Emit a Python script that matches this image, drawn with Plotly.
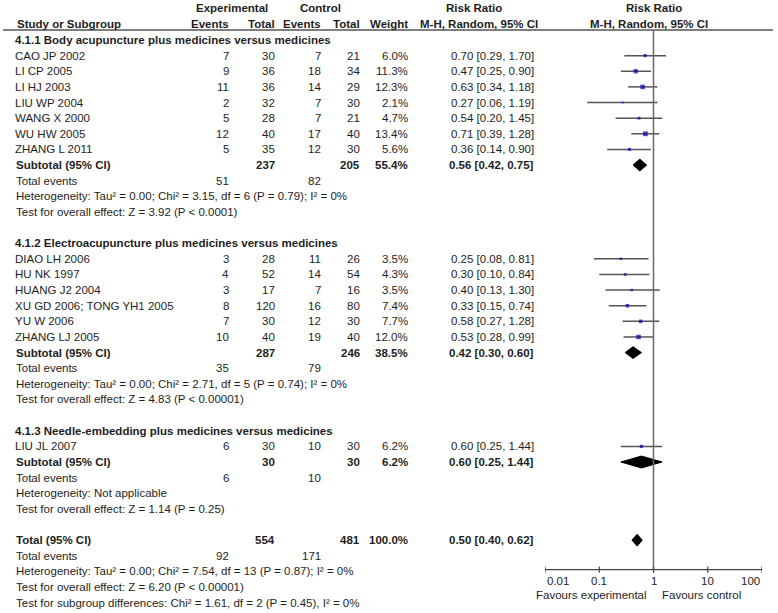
import math
import plotly.graph_objects as go

# ---------------- data ----------------
g1_name = "4.1.1 Body acupuncture plus medicines versus medicines"
g1_studies = ["CAO JP 2002", "LI CP 2005", "LI HJ 2003", "LIU WP 2004", "WANG X 2000", "WU HW 2005", "ZHANG L 2011"]
g1_exp_events = [7, 9, 11, 2, 5, 12, 5]
g1_exp_total = [30, 36, 36, 32, 28, 40, 35]
g1_ctrl_events = [7, 18, 14, 7, 7, 17, 12]
g1_ctrl_total = [21, 34, 29, 30, 21, 40, 30]
g1_weight = [6.0, 11.3, 12.3, 2.1, 4.7, 13.4, 5.6]
g1_rr = [0.70, 0.47, 0.63, 0.27, 0.54, 0.71, 0.36]
g1_lo = [0.29, 0.25, 0.34, 0.06, 0.20, 0.39, 0.14]
g1_hi = [1.70, 0.90, 1.18, 1.19, 1.45, 1.28, 0.90]
g1_sub_totals = [237, 205]
g1_sub_weight = 55.4
g1_sub_rr = [0.56, 0.42, 0.75]
g1_events = [51, 82]
g1_het = "Heterogeneity: Tau² = 0.00; Chi² = 3.15, df = 6 (P = 0.79); I² = 0%"
g1_test = "Test for overall effect: Z = 3.92 (P < 0.0001)"

g2_name = "4.1.2 Electroacupuncture plus medicines versus medicines"
g2_studies = ["DIAO LH 2006", "HU NK 1997", "HUANG J2 2004", "XU GD 2006; TONG YH1 2005", "YU W 2006", "ZHANG LJ 2005"]
g2_exp_events = [3, 4, 3, 8, 7, 10]
g2_exp_total = [28, 52, 17, 120, 30, 40]
g2_ctrl_events = [11, 14, 7, 16, 12, 19]
g2_ctrl_total = [26, 54, 16, 80, 30, 40]
g2_weight = [3.5, 4.3, 3.5, 7.4, 7.7, 12.0]
g2_rr = [0.25, 0.30, 0.40, 0.33, 0.58, 0.53]
g2_lo = [0.08, 0.10, 0.13, 0.15, 0.27, 0.28]
g2_hi = [0.81, 0.84, 1.30, 0.74, 1.28, 0.99]
g2_sub_totals = [287, 246]
g2_sub_weight = 38.5
g2_sub_rr = [0.42, 0.30, 0.60]
g2_events = [35, 79]
g2_het = "Heterogeneity: Tau² = 0.00; Chi² = 2.71, df = 5 (P = 0.74); I² = 0%"
g2_test = "Test for overall effect: Z = 4.83 (P < 0.00001)"

g3_name = "4.1.3 Needle-embedding plus medicines versus medicines"
g3_studies = ["LIU JL 2007"]
g3_exp_events = [6]
g3_exp_total = [30]
g3_ctrl_events = [10]
g3_ctrl_total = [30]
g3_weight = [6.2]
g3_rr = [0.60]
g3_lo = [0.25]
g3_hi = [1.44]
g3_sub_totals = [30, 30]
g3_sub_weight = 6.2
g3_sub_rr = [0.60, 0.25, 1.44]
g3_events = [6, 10]
g3_het = "Heterogeneity: Not applicable"
g3_test = "Test for overall effect: Z = 1.14 (P = 0.25)"

tot_totals = [554, 481]
tot_weight = 100.0
tot_rr = [0.50, 0.40, 0.62]
tot_events = [92, 171]
tot_het = "Heterogeneity: Tau² = 0.00; Chi² = 7.54, df = 13 (P = 0.87); I² = 0%"
tot_test = "Test for overall effect: Z = 6.20 (P < 0.00001)"
tot_sub = "Test for subgroup differences: Chi² = 1.61, df = 2 (P = 0.45), I² = 0%"

axis_ticks = [0.01, 0.1, 1, 10, 100]
axis_ticklabels = ["0.01", "0.1", "1", "10", "100"]
favours_left = "Favours experimental"
favours_right = "Favours control"

# ---------------- layout constants ----------------
W, H = 778, 613
ROW0_PX, STEP = 40.0, 15.63
FONT = "Liberation Sans, Arial, sans-serif"
FS = 11.5
TXT = "#1e1e1e"
X_NAME, X_EE, X_ET, X_CE, X_CT, X_W, X_RR = 14, 231, 277, 323, 362, 410, 536


def px2paper(px):
    return px / W


def row_of(py):
    return (py - ROW0_PX) / STEP


fig = go.Figure()
ann = []


def txt(px, row, s, anchor="left", bold=False):
    ann.append(dict(x=px2paper(px), y=row, xref="paper", yref="y", text=("<b>%s</b>" % s) if bold else s,
                    xanchor=anchor, yanchor="middle", showarrow=False,
                    font=dict(family=FONT, size=FS, color=TXT)))


def rrtxt(r, l, h):
    return "%.2f [%.2f, %.2f]" % (r, l, h)


ci_x, ci_y, sq_x, sq_y, sq_s = [], [], [], [], []
diamonds = []

groups = [
    (g1_name, g1_studies, g1_exp_events, g1_exp_total, g1_ctrl_events, g1_ctrl_total, g1_weight, g1_rr, g1_lo, g1_hi,
     g1_sub_totals, g1_sub_weight, g1_sub_rr, g1_events, g1_het, g1_test),
    (g2_name, g2_studies, g2_exp_events, g2_exp_total, g2_ctrl_events, g2_ctrl_total, g2_weight, g2_rr, g2_lo, g2_hi,
     g2_sub_totals, g2_sub_weight, g2_sub_rr, g2_events, g2_het, g2_test),
    (g3_name, g3_studies, g3_exp_events, g3_exp_total, g3_ctrl_events, g3_ctrl_total, g3_weight, g3_rr, g3_lo, g3_hi,
     g3_sub_totals, g3_sub_weight, g3_sub_rr, g3_events, g3_het, g3_test),
]

r = 0
for (name, st, ee, et, ce, ct, wt, rr, lo, hi, subt, subw, subrr, evs, het, test) in groups:
    txt(X_NAME - 1, r, name, bold=True)
    r += 1
    for i in range(len(st)):
        txt(X_NAME - 1, r, st[i])
        txt(X_EE, r, str(ee[i]), "right")
        txt(X_ET, r, str(et[i]), "right")
        txt(X_CE, r, str(ce[i]), "right")
        txt(X_CT, r, str(ct[i]), "right")
        txt(X_W, r, "%.1f%%" % wt[i], "right")
        txt(X_RR, r, rrtxt(rr[i], lo[i], hi[i]), "right")
        ci_x += [lo[i], hi[i], None]
        ci_y += [r, r, None]
        sq_x.append(rr[i]); sq_y.append(r); sq_s.append(1.3 * wt[i] ** 0.5)
        r += 1
    txt(X_NAME, r, "Subtotal (95% CI)", bold=True)
    txt(X_ET, r, str(subt[0]), "right", True)
    txt(X_CT, r, str(subt[1]), "right", True)
    txt(X_W, r, "%.1f%%" % subw, "right", True)
    txt(X_RR, r, rrtxt(*subrr), "right", True)
    diamonds.append((subrr, r))
    r += 1
    txt(X_NAME, r, "Total events")
    txt(X_EE, r, str(evs[0]), "right")
    txt(X_CE, r, str(evs[1]), "right")
    r += 1
    txt(X_NAME, r, het); r += 1
    txt(X_NAME, r, test); r += 1
    r += 1

txt(X_NAME, r, "Total (95% CI)", bold=True)
txt(X_ET, r, str(tot_totals[0]), "right", True)
txt(X_CT, r, str(tot_totals[1]), "right", True)
txt(X_W, r, "%.1f%%" % tot_weight, "right", True)
txt(X_RR, r, rrtxt(*tot_rr), "right", True)
diamonds.append((tot_rr, r))
r += 1
txt(X_NAME, r, "Total events")
txt(X_EE, r, str(tot_events[0]), "right")
txt(X_CE, r, str(tot_events[1]), "right")
r += 1
txt(X_NAME, r, tot_het); r += 1
txt(X_NAME, r, tot_test); r += 1
txt(X_NAME, r, tot_sub); r += 1

# headers
hr1, hr2 = row_of(7.5), row_of(24)
txt(232, hr1, "Experimental", "center", True)
txt(320, hr1, "Control", "center", True)
txt(474, hr1, "Risk Ratio", "center", True)
txt(654, hr1, "Risk Ratio", "center", True)
txt(15, hr2, "Study or Subgroup", bold=True)
txt(X_EE, hr2, "Events", "right", True)
txt(X_ET, hr2, "Total", "right", True)
txt(X_CE, hr2, "Events", "right", True)
txt(X_CT, hr2, "Total", "right", True)
txt(X_W, hr2, "Weight", "right", True)
txt(479, hr2, "M-H, Random, 95% CI", "center", True)
txt(649, hr2, "M-H, Random, 95% CI", "center", True)

# forest axis
axis_row = row_of(569.7)
shapes = []
shapes.append(dict(type="line", xref="paper", yref="y", x0=px2paper(3), x1=px2paper(773),
                   y0=row_of(30), y1=row_of(30), line=dict(color="#555555", width=1.5)))
shapes.append(dict(type="line", xref="x", yref="y", x0=1, x1=1, y0=row_of(30), y1=axis_row,
                   line=dict(color="#6a6a6a", width=1.5)))
shapes.append(dict(type="line", xref="x", yref="y", x0=axis_ticks[0], x1=axis_ticks[-1], y0=axis_row, y1=axis_row,
                   line=dict(color="#444444", width=1.2)))
n_ticks = len(axis_ticks)
for k, (t, lab) in enumerate(zip(axis_ticks, axis_ticklabels)):
    shapes.append(dict(type="line", xref="x", yref="y", x0=t, x1=t, y0=axis_row - 0.2, y1=axis_row + 0.2,
                       line=dict(color="#444444", width=1.2)))
    anchor = "left" if k == 0 else ("right" if k == n_ticks - 1 else "center")
    ann.append(dict(x=math.log10(t), y=row_of(580.5), xref="x", yref="y", text=lab, showarrow=False,
                    xanchor=anchor, yanchor="middle", font=dict(family=FONT, size=FS, color=TXT)))
txt(649, row_of(595), favours_left, "right")
txt(660, row_of(595), favours_right, "left")

fig.add_trace(go.Scatter(x=ci_x, y=ci_y, mode="lines", line=dict(color="#555555", width=1.5),
                         hoverinfo="skip", showlegend=False))
fig.add_trace(go.Scatter(x=sq_x, y=sq_y, mode="markers",
                         marker=dict(symbol="square", size=sq_s, color="#0000b4", line=dict(width=0)),
                         showlegend=False))
for (est, row) in diamonds:
    e, l, h = est
    fig.add_trace(go.Scatter(x=[l, e, h, e, l], y=[row, row - 0.38, row, row + 0.38, row], mode="lines",
                             fill="toself", fillcolor="black", line=dict(color="black", width=1),
                             showlegend=False, hoverinfo="skip"))

x_dom = [px2paper(545), px2paper(762)]
fig.update_layout(
    width=W, height=H, margin=dict(l=0, r=0, t=0, b=0),
    paper_bgcolor="white", plot_bgcolor="white",
    xaxis=dict(type="log", range=[-2, 2], domain=x_dom, visible=False, fixedrange=True),
    yaxis=dict(range=[row_of(H), row_of(0)], domain=[0, 1], visible=False, fixedrange=True),
    annotations=ann, shapes=shapes, showlegend=False,
)
fig.write_html("out.html", config={"displayModeBar": False},
               post_script="document.body.style.margin='0px';document.body.style.overflow='hidden';")
